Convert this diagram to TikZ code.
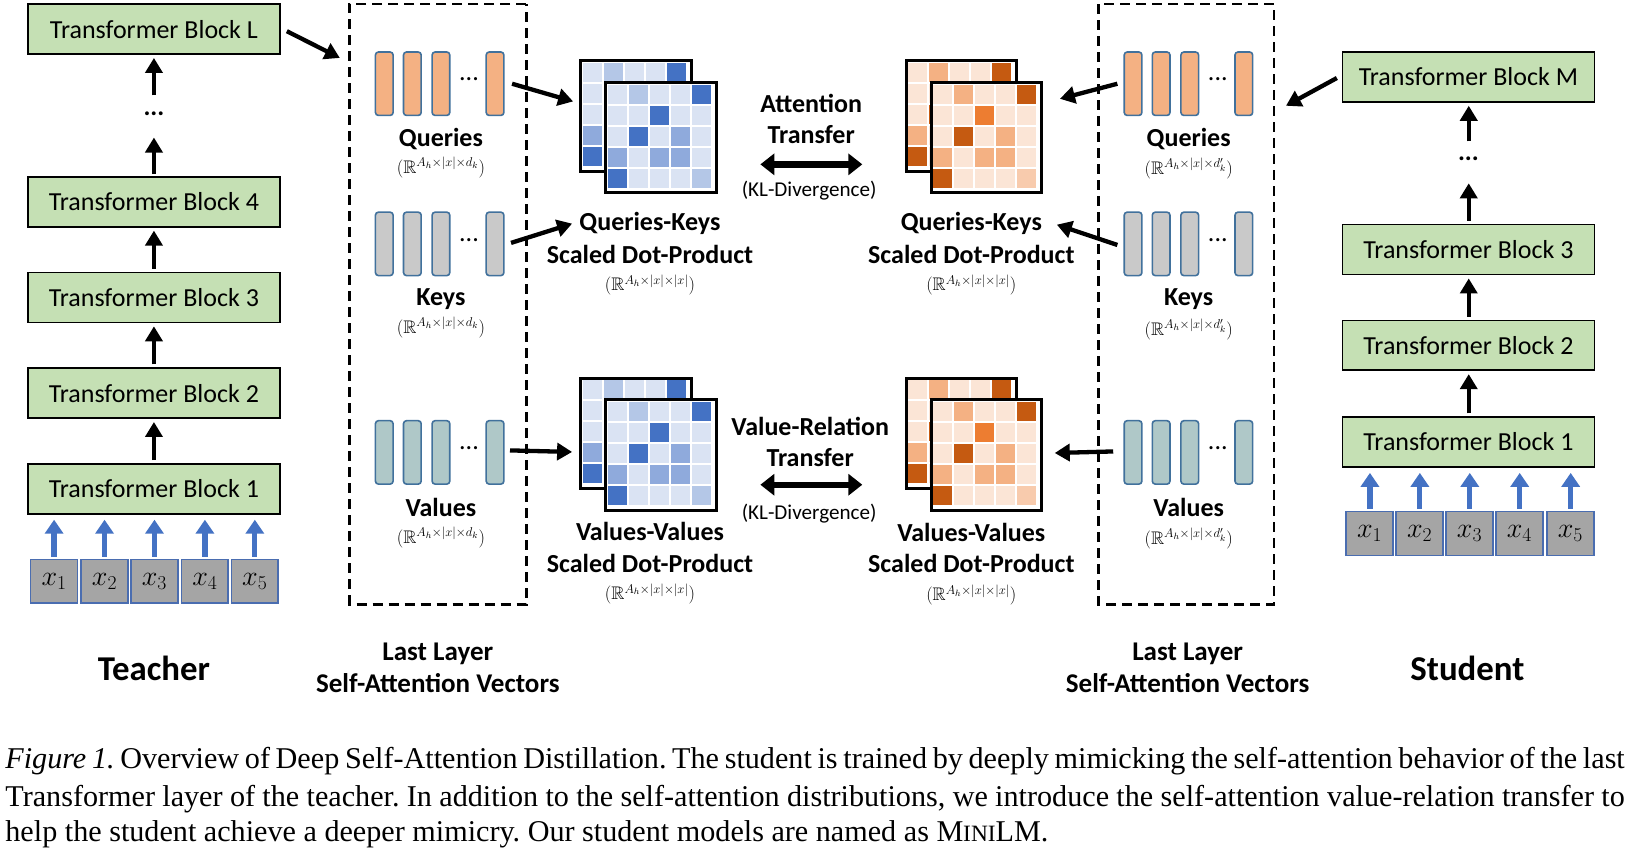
\RequirePackage{fix-cm}
\documentclass[tikz,border=0pt]{standalone}
\usepackage{amssymb}
\usepackage{fontspec}
\setmainfont{Liberation Serif}
\newfontfamily\calfont{Carlito}
\usetikzlibrary{arrows.meta,calc}

\definecolor{blkgreen}{HTML}{C5E0B4}
\definecolor{tokgray}{HTML}{A5A5A5}
\definecolor{tokblue}{HTML}{4A6DB0}
\definecolor{barblue}{HTML}{41719C}
\definecolor{barorange}{HTML}{F4B183}
\definecolor{bargray}{HTML}{C9C9C9}
\definecolor{barteal}{HTML}{AFC8C8}
\definecolor{arrblue}{HTML}{4472C4}
\definecolor{bluA}{HTML}{DAE3F3}
\definecolor{bluB}{HTML}{B4C7E7}
\definecolor{bluC}{HTML}{8FAADC}
\definecolor{bluD}{HTML}{4472C4}
\definecolor{bluE}{HTML}{4472C4}
\definecolor{bluF}{HTML}{B4C7E7}
\definecolor{orA}{HTML}{FBE5D6}
\definecolor{orB}{HTML}{F4B183}
\definecolor{orC}{HTML}{F4B183}
\definecolor{orD}{HTML}{ED7D31}
\definecolor{orE}{HTML}{C55A11}
\definecolor{orF}{HTML}{F8CBAD}

\newcommand\fA{\calfont\fontsize{25}{25}\selectfont}
\newcommand\fB{\calfont\bfseries\fontsize{25}{30}\selectfont}
\newcommand\fL{\calfont\bfseries\fontsize{26}{31}\selectfont}
\newcommand\fT{\calfont\bfseries\fontsize{33.5}{33.5}\selectfont}
\newcommand\fK{\calfont\fontsize{20.3}{20.3}\selectfont}
\newcommand\fM{\fontsize{17.5}{17.5}\selectfont}
\newcommand\capfont{\fontsize{29}{29}\selectfont\frenchspacing}

\tikzset{
  blk/.style={draw=black, line width=1.6pt, fill=blkgreen, minimum width=242pt,
    minimum height=48pt, inner sep=0pt, font=\fA},
  tok/.style={draw=tokblue, line width=1.6pt, fill=tokgray, minimum width=45pt,
    minimum height=42pt, inner sep=0pt, font=\fontsize{27}{27}\selectfont},
  vbar/.style={draw=barblue, line width=1.6pt, rounded corners=3pt,
    minimum width=17pt, minimum height=61pt, inner sep=0pt},
  arr/.style={line width=4.3pt, -{Triangle[length=15pt,width=17pt]}},
  barr/.style={draw=arrblue, line width=5.2pt, -{Triangle[length=14pt,width=18pt]}},
  darr/.style={line width=6.3pt, {Triangle[length=14pt,width=21pt]}-{Triangle[length=14pt,width=21pt]}},
  lab/.style={font=\fB, align=center, inner sep=0pt},
  mlab/.style={font=\fM, inner sep=0pt},
  dbox/.style={draw=black, line width=2.6pt, dash pattern=on 10pt off 6pt, inner sep=0pt},
  mtxbox/.style={draw=black, line width=3pt, fill=white, minimum width=106pt,
    minimum height=106pt, inner sep=0pt, anchor=north west},
}

% matrix: #1 name, #2 left x, #3 top y, #4 palette
\newcommand\mtx[4]{%
  \node[mtxbox] (#1) at (#2,#3) {};
  \foreach \row [count=\r from 0] in {{A,B,A,A,E},{A,A,D,A,A},{A,E,A,C,A},{C,A,C,C,A},{E,A,A,A,F}}{
    \foreach \c [count=\ci from 0] in \row {
      \fill[#4\c] ($(#2,#3)+(3.5+\ci*20.2,3.5+\r*20.2)$) rectangle ++(18.2,18.2);
    }
  }
}
% matrix pair
\newcommand\mtxpair[4]{%
  \mtx{#1b}{#2}{#3}{#4}
  \mtx{#1f}{#2+24}{#3+21}{#4}
}
% vector bars: #1 prefix, #2 first centre x, #3 centre y, #4 fill
\newcommand\bars[4]{%
  \node[vbar,fill=#4] (#11) at (#2,#3) {};
  \node[vbar,fill=#4] (#12) at (#2+27,#3) {};
  \node[vbar,fill=#4] (#13) at (#2+54.5,#3) {};
  \node[vbar,fill=#4] (#14) at (#2+106.5,#3) {};
  \node[font=\fA, inner sep=0pt] (#1d) at (#2+81.5,#3-4) {...};
}

\begin{document}
\begin{tikzpicture}[x=1pt,y=-1pt,scale=1.04,transform shape]
\useasboundingbox[fill=white] (0,0) rectangle (1568.3,820.2);

% ---------------- Teacher ----------------
\node[blk] (tL) at (148,28) {Transformer Block L};
\node[font=\fB, minimum height=40pt, inner sep=0pt] (tdots) at (148,112) {\raisebox{6pt}{...}};
\node[blk] (t4) at (148,194) {Transformer Block 4};
\node[blk] (t3) at (148,286) {Transformer Block 3};
\node[blk] (t2) at (148,378) {Transformer Block 2};
\node[blk] (t1) at (148,470) {Transformer Block 1};
\draw[arr, shorten >=3pt] (tdots.north) -- (tL.south);
\draw[arr, shorten <=2pt] (t4.north) -- (tdots.south);
\draw[arr, shorten <=3pt, shorten >=3pt] (t3.north) -- (t4.south);
\draw[arr, shorten <=3pt, shorten >=3pt] (t2.north) -- (t3.south);
\draw[arr, shorten <=3pt, shorten >=3pt] (t1.north) -- (t2.south);
\foreach \i [count=\k] in {52,100.5,148.5,197,245}{
  \node[tok] (tk\k) at (\i,559) {$x_{\k}$};
  \draw[barr, shorten <=2pt, shorten >=5pt] (tk\k.north) -- (tk\k.north |- t1.south);
}
\node[font=\fT] (teacher) at (148,643) {Teacher};

% ---------------- Student ----------------
\node[blk] (sM) at (1412,74) {Transformer Block M};
\node[font=\fB, minimum height=40pt, inner sep=0pt] (sdots) at (1412,156) {\raisebox{6pt}{...}};
\node[blk] (s3) at (1412,240) {Transformer Block 3};
\node[blk] (s2) at (1412,332) {Transformer Block 2};
\node[blk] (s1) at (1412,425) {Transformer Block 1};
\draw[arr, shorten >=3pt] (sdots.north) -- (sM.south);
\draw[arr, shorten <=3pt] (s3.north) -- (sdots.south);
\draw[arr, shorten <=3pt, shorten >=3pt] (s2.north) -- (s3.south);
\draw[arr, shorten <=3pt, shorten >=3pt] (s1.north) -- (s2.south);
\foreach \i [count=\k] in {1317,1365,1413,1461,1510}{
  \node[tok] (sk\k) at (\i,513) {$x_{\k}$};
  \draw[barr, shorten <=2pt, shorten >=5pt] (sk\k.north) -- (sk\k.north |- s1.south);
}
\node[font=\fT] (student) at (1411,643) {Student};

% ---------------- Dashed boxes ----------------
\node[dbox, minimum width=170pt, minimum height=577pt] (lbox) at (421,292.5) {};
\node[dbox, minimum width=169pt, minimum height=577pt] (rbox) at (1140.5,292.5) {};
\draw[arr] ($(tL.east)+(6,2)$) -- ($(lbox.north west)+(-8,53)$);
\draw[arr] ($(sM.west)+(-5,1)$) -- ($(rbox.north east)+(10,99)$);

% ---------------- Teacher vectors ----------------
\bars{qL}{369.5}{80.5}{barorange}
\node[lab] (qLt) at (424,134) {Queries};
\node[mlab] (qLm) at (424,161) {$(\mathbb{R}^{A_h\times|x|\times d_k})$};
\bars{kL}{369.5}{234.5}{bargray}
\node[lab] (kLt) at (424,288) {Keys};
\node[mlab] (kLm) at (424,315) {$(\mathbb{R}^{A_h\times|x|\times d_k})$};
\bars{vL}{369.5}{435}{barteal}
\node[lab] (vLt) at (424,488) {Values};
\node[mlab] (vLm) at (424,517) {$(\mathbb{R}^{A_h\times|x|\times d_k})$};
\node[font=\fL, align=center, inner sep=0pt] (lastL) at (421,642) {Last Layer\\Self-Attention Vectors};

% ---------------- Student vectors ----------------
\bars{qR}{1089.5}{80.5}{barorange}
\node[lab] (qRt) at (1143,134) {Queries};
\node[mlab] (qRm) at (1143,162) {$(\mathbb{R}^{A_h\times|x|\times d'_k})$};
\bars{kR}{1089.5}{234.5}{bargray}
\node[lab] (kRt) at (1143,288) {Keys};
\node[mlab] (kRm) at (1143,317) {$(\mathbb{R}^{A_h\times|x|\times d'_k})$};
\bars{vR}{1089.5}{435}{barteal}
\node[lab] (vRt) at (1143,488) {Values};
\node[mlab] (vRm) at (1143,518) {$(\mathbb{R}^{A_h\times|x|\times d'_k})$};
\node[font=\fL, align=center, inner sep=0pt] (lastR) at (1142,642) {Last Layer\\Self-Attention Vectors};

% ---------------- Matrices ----------------
\mtxpair{mQL}{557}{57}{blu}
\mtxpair{mQR}{870}{57}{or}
\mtxpair{mVL}{557}{362}{blu}
\mtxpair{mVR}{870}{362}{or}

\node[lab] (qkL1) at (625,215) {Queries-Keys};
\node[lab] (qkL2) at (625,245) {Scaled Dot-Product};
\node[mlab] (qkLm) at (625,274) {$(\mathbb{R}^{A_h\times|x|\times|x|})$};
\node[lab] (qkR1) at (934,215) {Queries-Keys};
\node[lab] (qkR2) at (934,245) {Scaled Dot-Product};
\node[mlab] (qkRm) at (934,274) {$(\mathbb{R}^{A_h\times|x|\times|x|})$};
\node[lab] (vvL1) at (625,511) {Values-Values};
\node[lab] (vvL2) at (625,542) {Scaled Dot-Product};
\node[mlab] (vvLm) at (625,571) {$(\mathbb{R}^{A_h\times|x|\times|x|})$};
\node[lab] (vvR1) at (934,512) {Values-Values};
\node[lab] (vvR2) at (934,542) {Scaled Dot-Product};
\node[mlab] (vvRm) at (934,572) {$(\mathbb{R}^{A_h\times|x|\times|x|})$};

% arrows vectors -> matrices
\draw[arr] ($(qL4.east)+(7,0)$) -- ($(mQLb.west)+(-6,-14)$);
\draw[arr] ($(kL4.east)+(6,-1)$) -- ($(qkL1.west)+(-7,0)$);
\draw[arr] ($(vL4.east)+(5,-2)$) -- ($(mVLb.west)+(-7,18)$);
\draw[arr] ($(qR1.west)+(-6,0)$) -- ($(mQRf.north east)+(16,17)$);
\draw[arr] ($(kR1.west)+(-6,1)$) -- ($(qkR1.east)+(14,1)$);
\draw[arr] ($(vR1.west)+(-10,-1)$) -- ($(mVRf.east)+(11,-2)$);

% transfers
\node[lab] (att) at (780,114) {Attention\\Transfer};
\coordinate (attA) at (731,158);
\coordinate (attB) at (829,158);
\draw[darr] (attA) -- (attB);
\node[font=\fK, inner sep=0pt] (kl1) at (778,183) {(KL-Divergence)};
\node[lab] (vrt) at (779,425) {Value-Relation\\Transfer};
\coordinate (vrA) at (731,466);
\coordinate (vrB) at (829,466);
\draw[darr] (vrA) -- (vrB);
\node[font=\fK, inner sep=0pt] (kl2) at (778,494) {(KL-Divergence)};

% ---------------- Caption ----------------
\node[anchor=west, font=\capfont, inner sep=0pt] (cap1) at (5,732)
  {\makebox[1557pt][s]{\textit{Figure 1.} Overview of Deep Self-Attention Distillation. The student is trained by deeply mimicking the self-attention behavior of the last}};
\node[anchor=west, font=\capfont, inner sep=0pt] (cap2) at (5,768)
  {\makebox[1557pt][s]{Transformer layer of the teacher. In addition to the self-attention distributions, we introduce the self-attention value-relation transfer to}};
\node[anchor=west, font=\capfont, inner sep=0pt] (cap3) at (5,802)
  {help the student achieve a deeper mimicry. Our student models are named as M{\fontsize{22.5}{22.5}\selectfont INI}LM.};
\end{tikzpicture}
\end{document}
